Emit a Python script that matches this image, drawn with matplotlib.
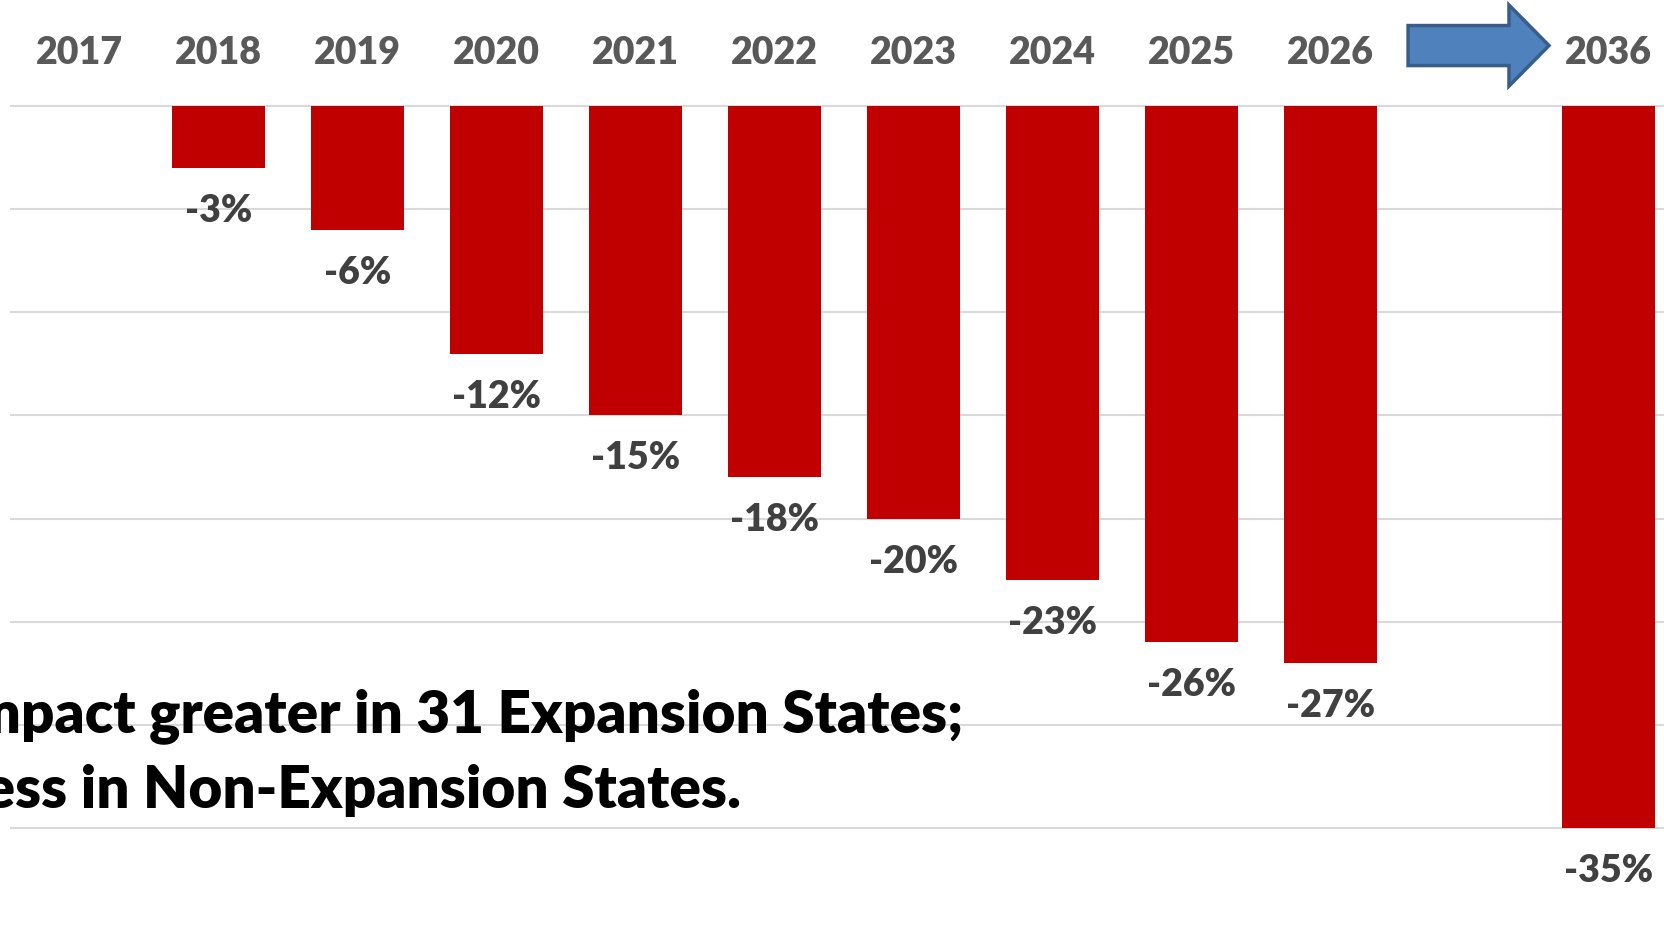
import numpy as np
import matplotlib
matplotlib.use("Agg")
import matplotlib.pyplot as plt
from matplotlib.patches import FancyArrow

# data
years = ["2017", "2018", "2019", "2020", "2021", "2022", "2023", "2024", "2025", "2026", "2036"]
change = [0, -3, -6, -12, -15, -18, -20, -23, -26, -27, -35]
note_lines = ["Impact greater in 31 Expansion States;", "Less in Non-Expansion States."]

plt.rcParams["font.family"] = ["Lato", "DejaVu Sans"]

W, H = 1664, 927
fig = plt.figure(figsize=(W / 100, H / 100), dpi=100)

slot = 139  # px per category
left = 10
ax = fig.add_axes([left / W, 0, 12 * slot / W, 1])

# one empty slot between 2026 and 2036 (arrow goes there)
x = np.arange(len(years), dtype=float)
x[-1] += 1

ax.bar(x, change, width=0.67, color="#C00000", zorder=2)

ax.set_xlim(-0.5, 11.5)
px = 20.63  # px per percent
ax.set_ylim(-35 - 99 / px, 106 / px)
ax.set_yticks(np.arange(-35, 1, 5))
ax.yaxis.grid(True, color="#D9D9D9", lw=1.5)
ax.set_axisbelow(True)
ax.tick_params(left=False, bottom=False, labelleft=False, labelbottom=False)
for s in ax.spines.values():
    s.set_visible(False)

# year labels on top
for xi, yr in zip(x, years):
    ax.text(xi, 42 / px, yr, ha="center", va="baseline", fontsize=27,
            fontweight="heavy", color="#595959")

# value labels under bars
for xi, v in zip(x, change):
    if v == 0:
        continue
    ax.text(xi, v - 54 / px, f"{v}%", ha="center", va="baseline", fontsize=27,
            fontweight="heavy", color="#404040")

# arrow from 2026 toward 2036
ax.add_patch(FancyArrow(9.558, 2.93, 1.014, 0, width=1.94, head_width=3.93,
                        head_length=0.288, length_includes_head=True,
                        fc="#4F81BD", ec="#385D8A", lw=2.5, clip_on=False, zorder=3))

# note text, cut off at the left like the source slide
t1 = fig.text(963 / W, 1 - 732 / H, note_lines[0], ha="right", va="baseline",
              fontsize=42, fontweight="heavy", color="black", zorder=5)
fig.canvas.draw()
bb = t1.get_window_extent()
fig.text(bb.x0 / W, 1 - 808 / H, note_lines[1], ha="left", va="baseline",
         fontsize=42, fontweight="heavy", color="black", zorder=5)

fig.savefig("out.png", dpi=100)
